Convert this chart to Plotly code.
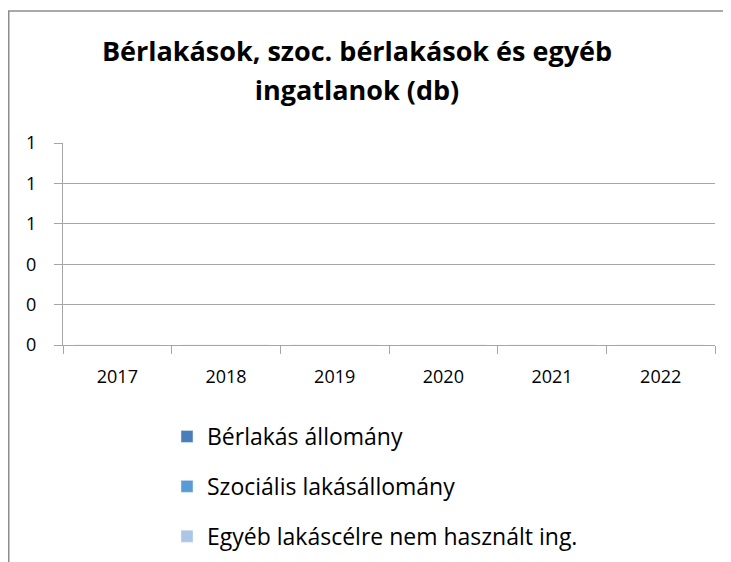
import plotly.graph_objects as go

years = ["2017", "2018", "2019", "2020", "2021", "2022"]
berlakas = [0, 0, 0, 0, 0, 0]
szocialis = [0, 0, 0, 0, 0, 0]
egyeb = [0, 0, 0, 0, 0, 0]

series_names = ["Bérlakás állomány", "Szociális lakásállomány", "Egyéb lakáscélre nem használt ing."]
series_colors = ["#4a7ebb", "#5b9bd5", "#adc6e5"]

FONT = "Open Sans, Lato, sans-serif"
W, H = 731, 562
L, T = 55, 135
R = W - 707
B = H - 337
pw, ph = W - L - R, H - T - B

def px(x):
    return (x - L) / pw

def py(y):
    return (H - B - y) / ph

fig = go.Figure()
for name, vals, col, g in zip(series_names, [berlakas, szocialis, egyeb], series_colors, ["a", "b", "c"]):
    fig.add_trace(go.Bar(x=years, y=vals, name=name, marker_color=col, legendgroup=g))

title_txt = ("<b><span style='font-size:27px'>Bérlakások, szoc. bérlakások és egyéb</span><br>"
             "<span style='font-size:27px'>ingatlanok (db)</span></b>")

fig.update_layout(
    width=W, height=H,
    margin=dict(l=L, r=R, t=T, b=B, autoexpand=False),
    paper_bgcolor="white", plot_bgcolor="white",
    font=dict(family=FONT, color="#000000"),
    title=dict(
        text=title_txt,
        x=349 / W, xanchor="center", xref="container",
        y=1 - 53 / H, yanchor="top", yref="container",
        font=dict(size=30, family=FONT, color="#000000"),
    ),
    showlegend=True,
    legend=dict(
        orientation="v", xref="container", yref="container",
        x=159 / W, xanchor="left", y=1 - 407 / H, yanchor="top",
        font=dict(size=23, family=FONT, color="#000000"),
        tracegroupgap=17, bgcolor="rgba(0,0,0,0)",
    ),
    xaxis=dict(
        type="category", showline=True, linecolor="#a6a6a6", linewidth=1,
        ticks="outside", tickson="boundaries", ticklen=8, tickcolor="#a6a6a6",
        tickfont=dict(size=18, color="#000000"), showgrid=False, tickangle=0,
        ticklabelstandoff=15,
    ),
    yaxis=dict(
        range=[0, 1], dtick=0.2, tick0=0, tickformat=".0f",
        showline=True, linecolor="#a6a6a6", linewidth=1,
        ticks="outside", ticklen=8, tickcolor="#a6a6a6",
        showgrid=True, gridcolor="#a6a6a6", gridwidth=1,
        tickfont=dict(size=18, color="#000000"), zeroline=False,
        ticklabelstandoff=14,
    ),
    shapes=[
        dict(type="line", xref="paper", yref="paper", x0=px(0), x1=px(731), y0=py(3), y1=py(3),
             line=dict(color="#8c8c8c", width=1.5)),
        dict(type="line", xref="paper", yref="paper", x0=px(0.75), x1=px(0.75), y0=py(3), y1=py(562),
             line=dict(color="#8c8c8c", width=1.5)),
    ],
)

fig.write_html("out.html")
